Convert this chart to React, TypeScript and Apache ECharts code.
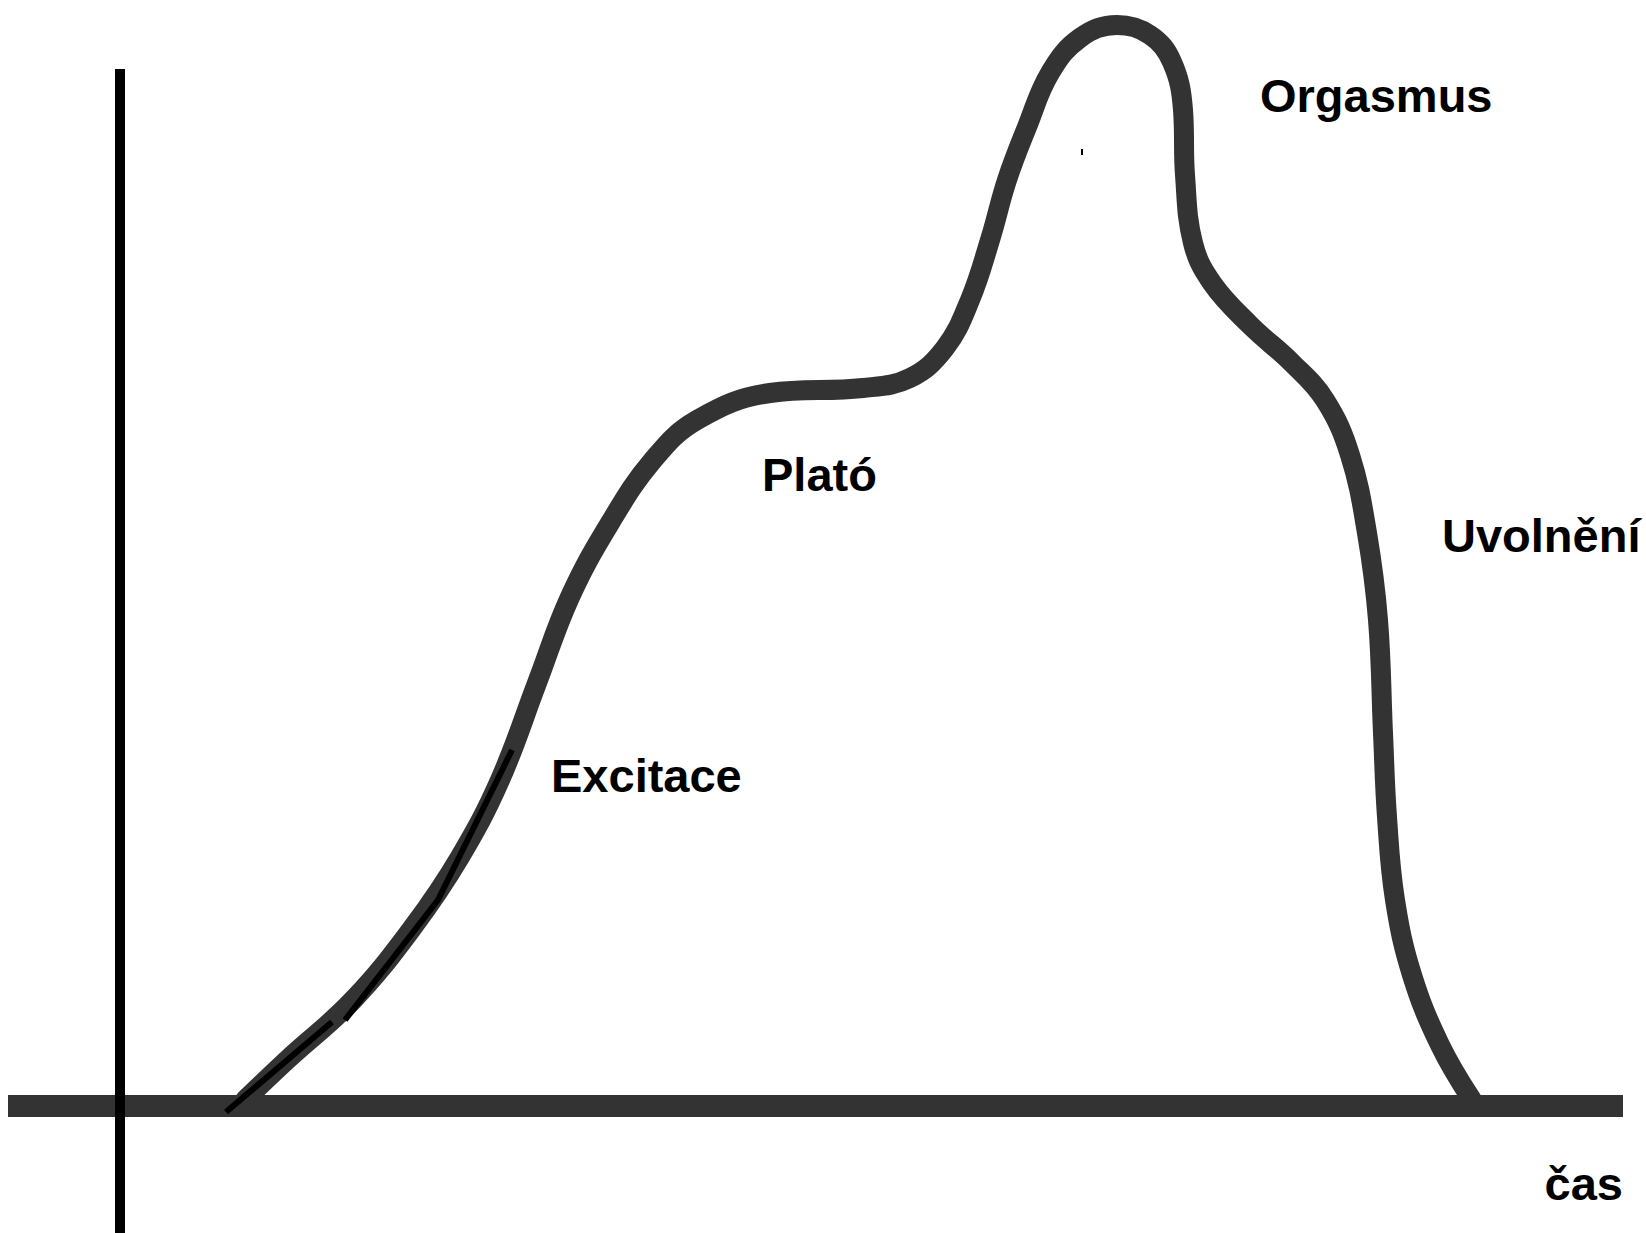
import React, { useEffect, useRef } from "react";
import * as echarts from "echarts";

// Main response curve: time (from the vertical axis) and level (above the baseline)
const curveTime = [
  125, 167, 233, 293, 340, 380, 417, 450, 490, 533, 577, 650, 743, 790, 825, 850, 870,
  887, 907, 930, 960, 997, 1030, 1052, 1063, 1065, 1073, 1092, 1130, 1172, 1205, 1230,
  1247, 1258, 1263, 1267, 1275, 1292, 1320, 1352,
];
const curveLevel = [
  6, 46, 106, 179, 249, 326, 423, 509, 583, 646, 686, 713, 718, 728, 758, 806, 866,
  926, 979, 1033, 1068, 1081, 1071, 1044, 996, 931, 863, 823, 781, 743, 706, 651,
  573, 486, 373, 289, 206, 131, 61, 6,
];

// Thin black trace drawn over the start of the curve (two pieces)
const traceATime = [106, 212];
const traceALevel = [-6, 84];
const traceBTime = [225, 318, 392];
const traceBLevel = [86, 206, 356];

// Axes
const baselineTime = [-112, 1503];
const baselineLevel = [0, 0];
const vAxisTime = [0, 0];
const vAxisLevel = [-127, 1037];

// Tiny stray tick inside the peak
const strayTime = [962, 962];
const strayLevel = [957, 951];

const phaseLabels = ["Excitace", "Plató", "Orgasmus", "Uvolnění"];
const timeLabel = "čas";

const zip = (a: number[], b: number[]) => a.map((v, i) => [v, b[i]]);

export default function App() {
  const ref = useRef<HTMLDivElement>(null);
  useEffect(() => {
    document.body.style.margin = "0";
    const chart = echarts.init(ref.current!, null, { renderer: "svg" });
    const font = 'bold 47px "Liberation Sans", Arial, sans-serif';
    const txt = (text: string, x: number, y: number, align = "left") => ({
      type: "text",
      x,
      y,
      style: { text, font, fill: "#000", align, verticalAlign: "middle" },
      z: 10,
    });
    chart.setOption({
      animation: false,
      backgroundColor: "#fff",
      grid: { left: 0, right: 0, top: 0, bottom: 0, containLabel: false },
      xAxis: { type: "value", min: -120, max: 1526, show: false },
      yAxis: { type: "value", min: -127, max: 1106, show: false },
      series: [
        {
          type: "line",
          data: zip(baselineTime, baselineLevel),
          showSymbol: false,
          lineStyle: { width: 22, color: "#333", cap: "butt" },
          z: 1,
        },
        {
          type: "line",
          data: zip(curveTime, curveLevel),
          showSymbol: false,
          smooth: 0.4,
          lineStyle: { width: 20, color: "#333", cap: "round", join: "round" },
          z: 2,
        },
        {
          type: "line",
          data: zip(traceATime, traceALevel),
          showSymbol: false,
          lineStyle: { width: 6, color: "#000", cap: "butt" },
          z: 3,
        },
        {
          type: "line",
          data: zip(traceBTime, traceBLevel),
          showSymbol: false,
          lineStyle: { width: 6, color: "#000", cap: "butt" },
          z: 3,
        },
        {
          type: "line",
          data: zip(strayTime, strayLevel),
          showSymbol: false,
          lineStyle: { width: 2, color: "#000" },
          z: 3,
        },
        {
          type: "line",
          data: zip(vAxisTime, vAxisLevel),
          showSymbol: false,
          lineStyle: { width: 10, color: "#000", cap: "butt" },
          z: 4,
        },
      ],
      graphic: [
        txt(phaseLabels[0], 551, 775),
        txt(phaseLabels[1], 762, 474),
        txt(phaseLabels[2], 1260, 95),
        txt(phaseLabels[3], 1442, 535),
        txt(timeLabel, 1623, 1183, "right"),
      ],
    });
    return () => chart.dispose();
  }, []);
  return <div ref={ref} style={{ width: 1646, height: 1233 }} />;
}
